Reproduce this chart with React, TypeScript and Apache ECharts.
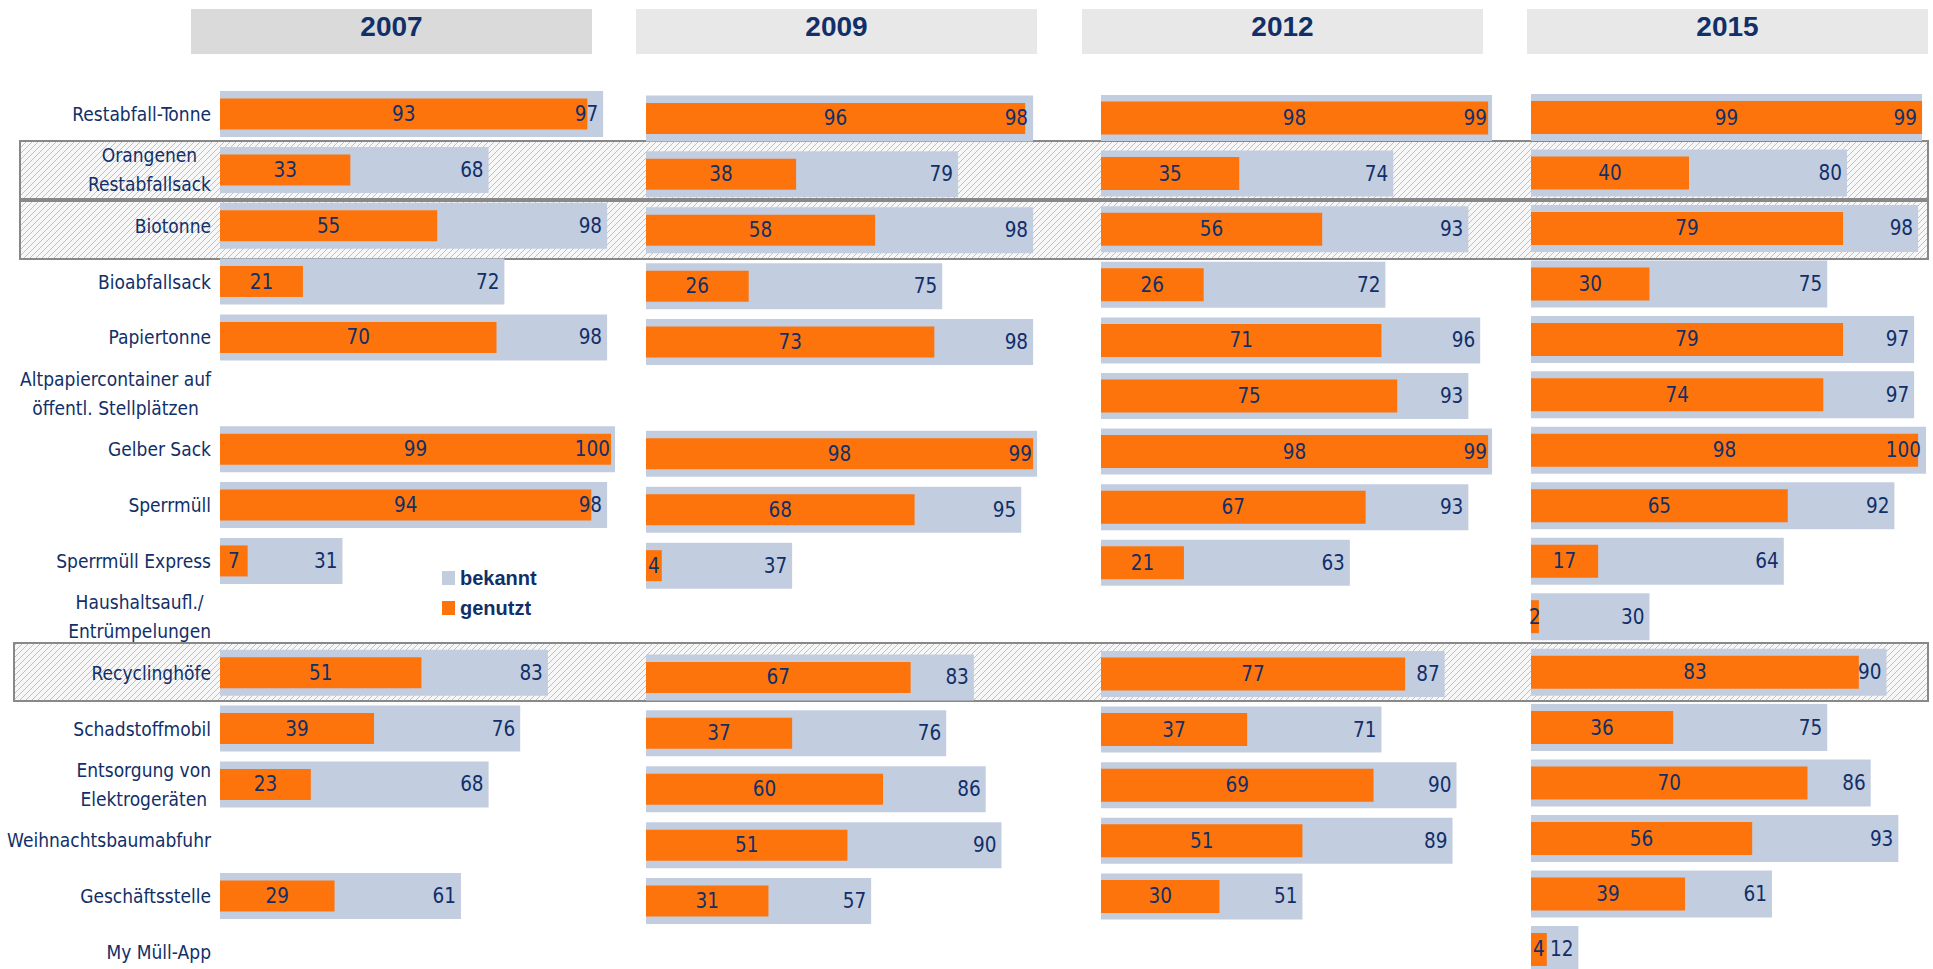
import React, { useEffect, useRef } from "react";
import * as echarts from "echarts";

const categories = [
  "Restabfall-Tonne",
  "Orangenen\nRestabfallsack",
  "Biotonne",
  "Bioabfallsack",
  "Papiertonne",
  "Altpapiercontainer auf\nöffentl. Stellplätzen",
  "Gelber Sack",
  "Sperrmüll",
  "Sperrmüll Express",
  "Haushaltsaufl./\nEntrümpelungen",
  "Recyclinghöfe",
  "Schadstoffmobil",
  "Entsorgung von\nElektrogeräten",
  "Weihnachtsbaumabfuhr",
  "Geschäftsstelle",
  "My Müll-App",
];

const years = ["2007", "2009", "2012", "2015"];

const bekannt2007 = [97, 68, 98, 72, 98, null, 100, 98, 31, null, 83, 76, 68, null, 61, null];
const genutzt2007 = [93, 33, 55, 21, 70, null, 99, 94, 7, null, 51, 39, 23, null, 29, null];
const bekannt2009 = [98, 79, 98, 75, 98, null, 99, 95, 37, null, 83, 76, 86, 90, 57, null];
const genutzt2009 = [96, 38, 58, 26, 73, null, 98, 68, 4, null, 67, 37, 60, 51, 31, null];
const bekannt2012 = [99, 74, 93, 72, 96, 93, 99, 93, 63, null, 87, 71, 90, 89, 51, null];
const genutzt2012 = [98, 35, 56, 26, 71, 75, 98, 67, 21, null, 77, 37, 69, 51, 30, null];
const bekannt2015 = [99, 80, 98, 75, 97, 97, 100, 92, 64, 30, 90, 75, 86, 93, 61, 12];
const genutzt2015 = [99, 40, 79, 30, 79, 74, 98, 65, 17, 2, 83, 36, 70, 56, 39, 4];

const bekanntByYear = [bekannt2007, bekannt2009, bekannt2012, bekannt2015];
const genutztByYear = [genutzt2007, genutzt2009, genutzt2012, genutzt2015];

// layout / style
const NAVY = "#112f68";
const BLUE = "#c3cde0";
const ORANGE = "#fd740d";
const NARROW = '"Liberation Sans Narrow", "Arial Narrow", "DejaVu Sans Condensed", "Liberation Sans", sans-serif';
const CAT_FONT = 19;
const VAL_FONT = 20.5;
const CAT_LINE = 29;
const panelLeft = [220, 646, 1101, 1531];
const panelTop = [86.1, 90.5, 90.2, 89.8];
const panelHeight = [893.8, 894.4, 889.6, 887.4];
const panelWidth = 395;
const bekanntBarW = [46, 46, 46, 47];
const genutztBarW = [31, 31, 33, 33];
const titleBoxX = [191, 636, 1082, 1527];
const titleFill = ["#dadada", "#e8e8e8", "#e8e8e8", "#e8e8e8"];

function makeHatch(): HTMLCanvasElement {
  const c = document.createElement("canvas");
  c.width = 6;
  c.height = 6;
  const g = c.getContext("2d")!;
  g.fillStyle = "#f7f7f7";
  g.fillRect(0, 0, 6, 6);
  g.strokeStyle = "#c0c0c0";
  g.lineWidth = 1;
  g.beginPath();
  g.moveTo(0, 6);
  g.lineTo(6, 0);
  g.moveTo(-1, 1);
  g.lineTo(1, -1);
  g.moveTo(5, 7);
  g.lineTo(7, 5);
  g.stroke();
  return c;
}

export default function App() {
  const ref = useRef<HTMLDivElement>(null);

  useEffect(() => {
    if (!ref.current) return;
    const chart = echarts.init(ref.current, null, { renderer: "svg" });
    const hatch = makeHatch();
    const hatchFill: any = { image: hatch, repeat: "repeat", imageWidth: 6, imageHeight: 6 };

    const rich: Record<string, any> = {};
    categories.forEach((c, i) => {
      if (c.includes("\n")) {
        rich["c" + i] = {
          align: "center",
          fontSize: CAT_FONT,
          fontFamily: NARROW,
          color: NAVY,
          lineHeight: CAT_LINE,
        };
      }
    });

    const grids = years.map((_, i) => ({
      left: panelLeft[i],
      top: panelTop[i],
      width: panelWidth,
      height: panelHeight[i],
      containLabel: false,
      outerBoundsMode: "none",
    }));

    const xAxes = years.map((_, i) => ({
      type: "value",
      gridIndex: i,
      min: 0,
      max: 100,
      show: false,
    }));

    const yAxes: any[] = [];
    years.forEach((_, i) => {
      yAxes.push({
        type: "category",
        gridIndex: i,
        data: categories,
        inverse: true,
        show: i === 0,
        position: "left",
        axisLine: { show: false },
        axisTick: { show: false },
        splitLine: { show: false },
        axisLabel: {
          show: i === 0,
          interval: 0,
          margin: 9,
          color: NAVY,
          fontSize: CAT_FONT,
          fontFamily: NARROW,
          lineHeight: CAT_LINE,
          formatter: (v: string, idx: number) =>
            v.includes("\n")
              ? v
                  .split("\n")
                  .map((l) => `{c${idx}|${l}}`)
                  .join("\n")
              : v,
          rich,
        },
      });
      yAxes.push({
        type: "category",
        gridIndex: i,
        data: categories,
        inverse: true,
        show: false,
        position: "left",
      });
    });

    const series: any[] = [];
    years.forEach((_, i) => {
      series.push({
        type: "bar",
        name: "bekannt",
        xAxisIndex: i,
        yAxisIndex: 2 * i,
        data: bekanntByYear[i],
        barWidth: bekanntBarW[i],
        itemStyle: { color: BLUE },
        z: 2,
        label: {
          show: true,
          position: "insideRight",
          distance: 5,
          color: NAVY,
          fontSize: VAL_FONT,
          fontFamily: NARROW,
        },
      });
      series.push({
        type: "bar",
        name: "genutzt",
        xAxisIndex: i,
        yAxisIndex: 2 * i + 1,
        data: genutztByYear[i],
        barWidth: genutztBarW[i],
        itemStyle: { color: ORANGE },
        z: 2,
        label: {
          show: true,
          position: "inside",
          color: NAVY,
          fontSize: VAL_FONT,
          fontFamily: NARROW,
        },
      });
    });

    const highlightBoxes = [
      { x: 20, y: 141, w: 1908, h: 58 },
      { x: 20, y: 201, w: 1908, h: 58 },
      { x: 14, y: 643, w: 1914, h: 58 },
    ];

    const graphics: any[] = [];
    highlightBoxes.forEach((b) => {
      graphics.push({
        type: "rect",
        z: -1,
        shape: { x: b.x, y: b.y, width: b.w, height: b.h },
        style: { fill: hatchFill, stroke: "#888888", lineWidth: 2 },
      });
    });
    years.forEach((y, i) => {
      graphics.push({
        type: "rect",
        z: -1,
        shape: { x: titleBoxX[i], y: 9, width: 401, height: 45 },
        style: { fill: titleFill[i] },
      });
      graphics.push({
        type: "text",
        z: 1,
        x: titleBoxX[i] + 200.5,
        y: 26,
        style: {
          text: y,
          fill: NAVY,
          font: 'bold 28px "Liberation Sans", Arial, sans-serif',
          align: "center",
          verticalAlign: "middle",
        },
      });
    });

    chart.setOption({
      animation: false,
      grid: grids,
      xAxis: xAxes,
      yAxis: yAxes,
      series,
      legend: {
        data: ["bekannt", "genutzt"],
        orient: "vertical",
        left: 437,
        top: 563,
        icon: "rect",
        itemWidth: 13,
        itemHeight: 14,
        itemGap: 10,
        selectedMode: false,
        textStyle: {
          color: NAVY,
          fontSize: 20,
          fontWeight: "bold",
          fontFamily: '"Liberation Sans", Arial, sans-serif',
        },
      },
      graphic: { elements: graphics },
    });

    return () => chart.dispose();
  }, []);

  return (
    <div
      ref={ref}
      style={{ position: "absolute", left: 0, top: 0, width: 1933, height: 969, background: "#fff" }}
    />
  );
}
